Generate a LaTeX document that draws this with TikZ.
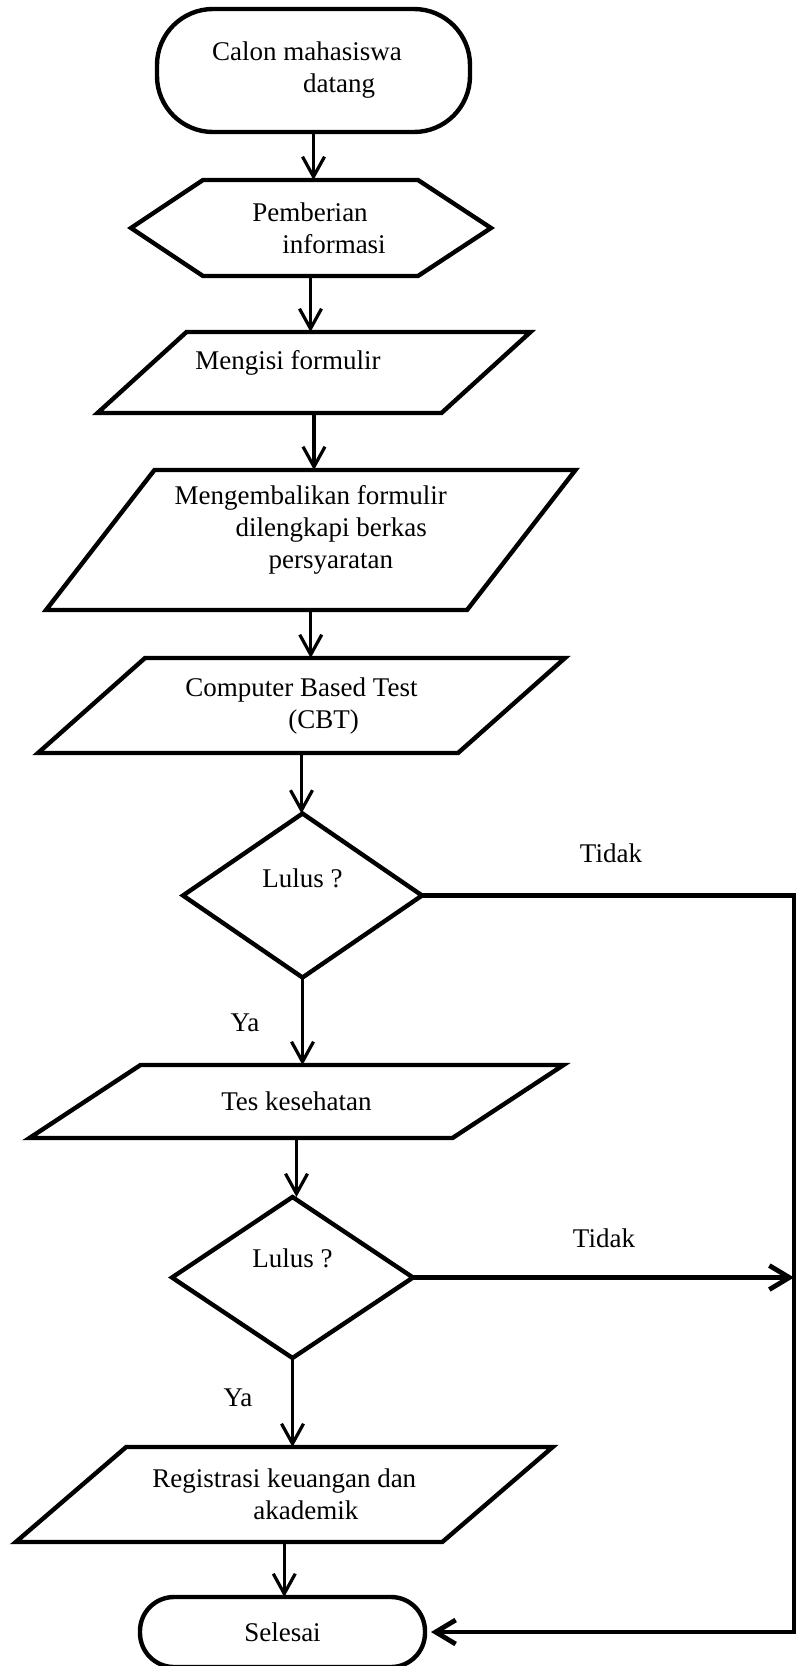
\documentclass[tikz,border=0pt]{standalone}
\usepackage{fontspec}
\setmainfont{Liberation Serif}
\usetikzlibrary{arrows.meta,shapes.geometric}
\newcommand\slantbox[2]{\draw[shapeline] ([xshift=#2]#1.north west) -- ([xshift=#2]#1.north east) -- ([xshift=-#2]#1.south east) -- ([xshift=-#2]#1.south west) -- cycle;}
\begin{document}
\begin{tikzpicture}[x=0.5pt,y=-0.5pt,
  font=\fontsize{13.5}{16}\selectfont,
  shapeline/.style={line width=2.2pt,line join=miter},
  termbox/.style={shapeline,draw,rectangle,outer sep=0pt,inner sep=2pt,align=left},
  body/.style={rectangle,outer sep=0pt,inner sep=2pt,align=left},
  decide/.style={shapeline,draw,diamond,outer sep=0pt,inner sep=1pt},
  lbl/.style={inner sep=1pt},
  arr/.style={line width=1.6pt,-{Straight Barb[length=10pt,width=11pt]}},
  flowline/.style={line width=2.4pt,line join=miter}]
\useasboundingbox (0,0) rectangle (797,1666);

% start terminal
\node[termbox,minimum width=156.5pt,minimum height=61.5pt,rounded corners=28pt] (start) at (313.5,70.5)
  {Calon mahasiswa\hspace*{6.5pt}\\\hspace*{45.5pt}datang};

% hexagon
\node[body,minimum width=107.5pt,minimum height=48pt] (info) at (310.5,228)
  {\hspace*{8.5pt}Pemberian\\\hspace*{23.5pt}informasi};
\draw[shapeline] (info.north west) -- (info.north east) -- ([xshift=36.5pt]info.east)
  -- (info.south east) -- (info.south west) -- ([xshift=-36pt]info.west) -- cycle;

% Mengisi formulir
\node[body,minimum width=172pt,minimum height=40.5pt,text depth=12.4pt] (isi) at (314,372.5)
  {Mengisi formulir\hspace*{26pt}};
\slantbox{isi}{22.25pt}

% Mengembalikan formulir
\node[body,minimum width=210.5pt,minimum height=70pt] (kembali) at (310.75,540)
  {Mengembalikan formulir\\\hspace*{30.5pt}dilengkapi berkas\\\hspace*{47pt}persyaratan\rule[-12.8pt]{0pt}{12.8pt}};
\slantbox{kembali}{27.1pt}

% CBT
\node[body,minimum width=210pt,minimum height=47.5pt] (cbt) at (301.5,705.5)
  {Computer Based Test\\\hspace*{51.5pt}(CBT)};
\slantbox{cbt}{26.75pt}

% decision 1
\node[decide,minimum width=119.5pt,minimum height=82pt,text depth=17.6pt] (lulus1) at (302.5,895.5) {Lulus ?};

% Tes kesehatan
\node[body,minimum width=211.5pt,minimum height=36.5pt] (tes) at (296.5,1101.5) {Tes kesehatan};
\slantbox{tes}{27.75pt}

% decision 2
\node[decide,minimum width=120.5pt,minimum height=80.5pt,text depth=19.6pt] (lulus2) at (292.5,1277.5) {Lulus ?};

% Registrasi
\node[body,minimum width=213.25pt,minimum height=47.5pt] (reg) at (284.25,1494.5)
  {Registrasi keuangan dan\\\hspace*{50.5pt}akademik};
\slantbox{reg}{27.6pt}

% end terminal
\node[termbox,minimum width=142.5pt,minimum height=35pt,rounded corners=17pt,align=center] (selesai) at (282.5,1632) {Selesai};

% labels
\node[lbl] (tidak1) at (611,853) {Tidak};
\node[lbl] (tidak2) at (604,1238) {Tidak};
\node[lbl] (ya1) at (245,1023) {Ya};
\node[lbl] (ya2) at (238,1398) {Ya};

\coordinate (rx) at (794,898);

% connectors
\draw[arr] (start.south) -- (start.south |- info.north);
\draw[arr] (info.south) -- (info.south |- isi.north);
\draw[arr] (isi.south) -- (isi.south |- kembali.north);
\draw[arr] (kembali.south) -- (kembali.south |- cbt.north);
\draw[arr] (cbt.south) -- (cbt.south |- lulus1.north);
\draw[arr] (lulus1.south) -- (lulus1.south |- tes.north);
\draw[arr] (tes.south) -- (tes.south |- lulus2.north);
\draw[arr] (lulus2.south) -- (lulus2.south |- reg.north);
\draw[arr] (reg.south) -- (reg.south |- selesai.north);
\draw[flowline,-{Straight Barb[length=10pt,width=12pt]},shorten >=3pt] (lulus1.east) -- (lulus1.east -| rx) |- (selesai.east);
\draw[flowline,-{Straight Barb[length=10pt,width=12pt]}] (lulus2.east) -- (lulus2.east -| rx);
\end{tikzpicture}
\end{document}
